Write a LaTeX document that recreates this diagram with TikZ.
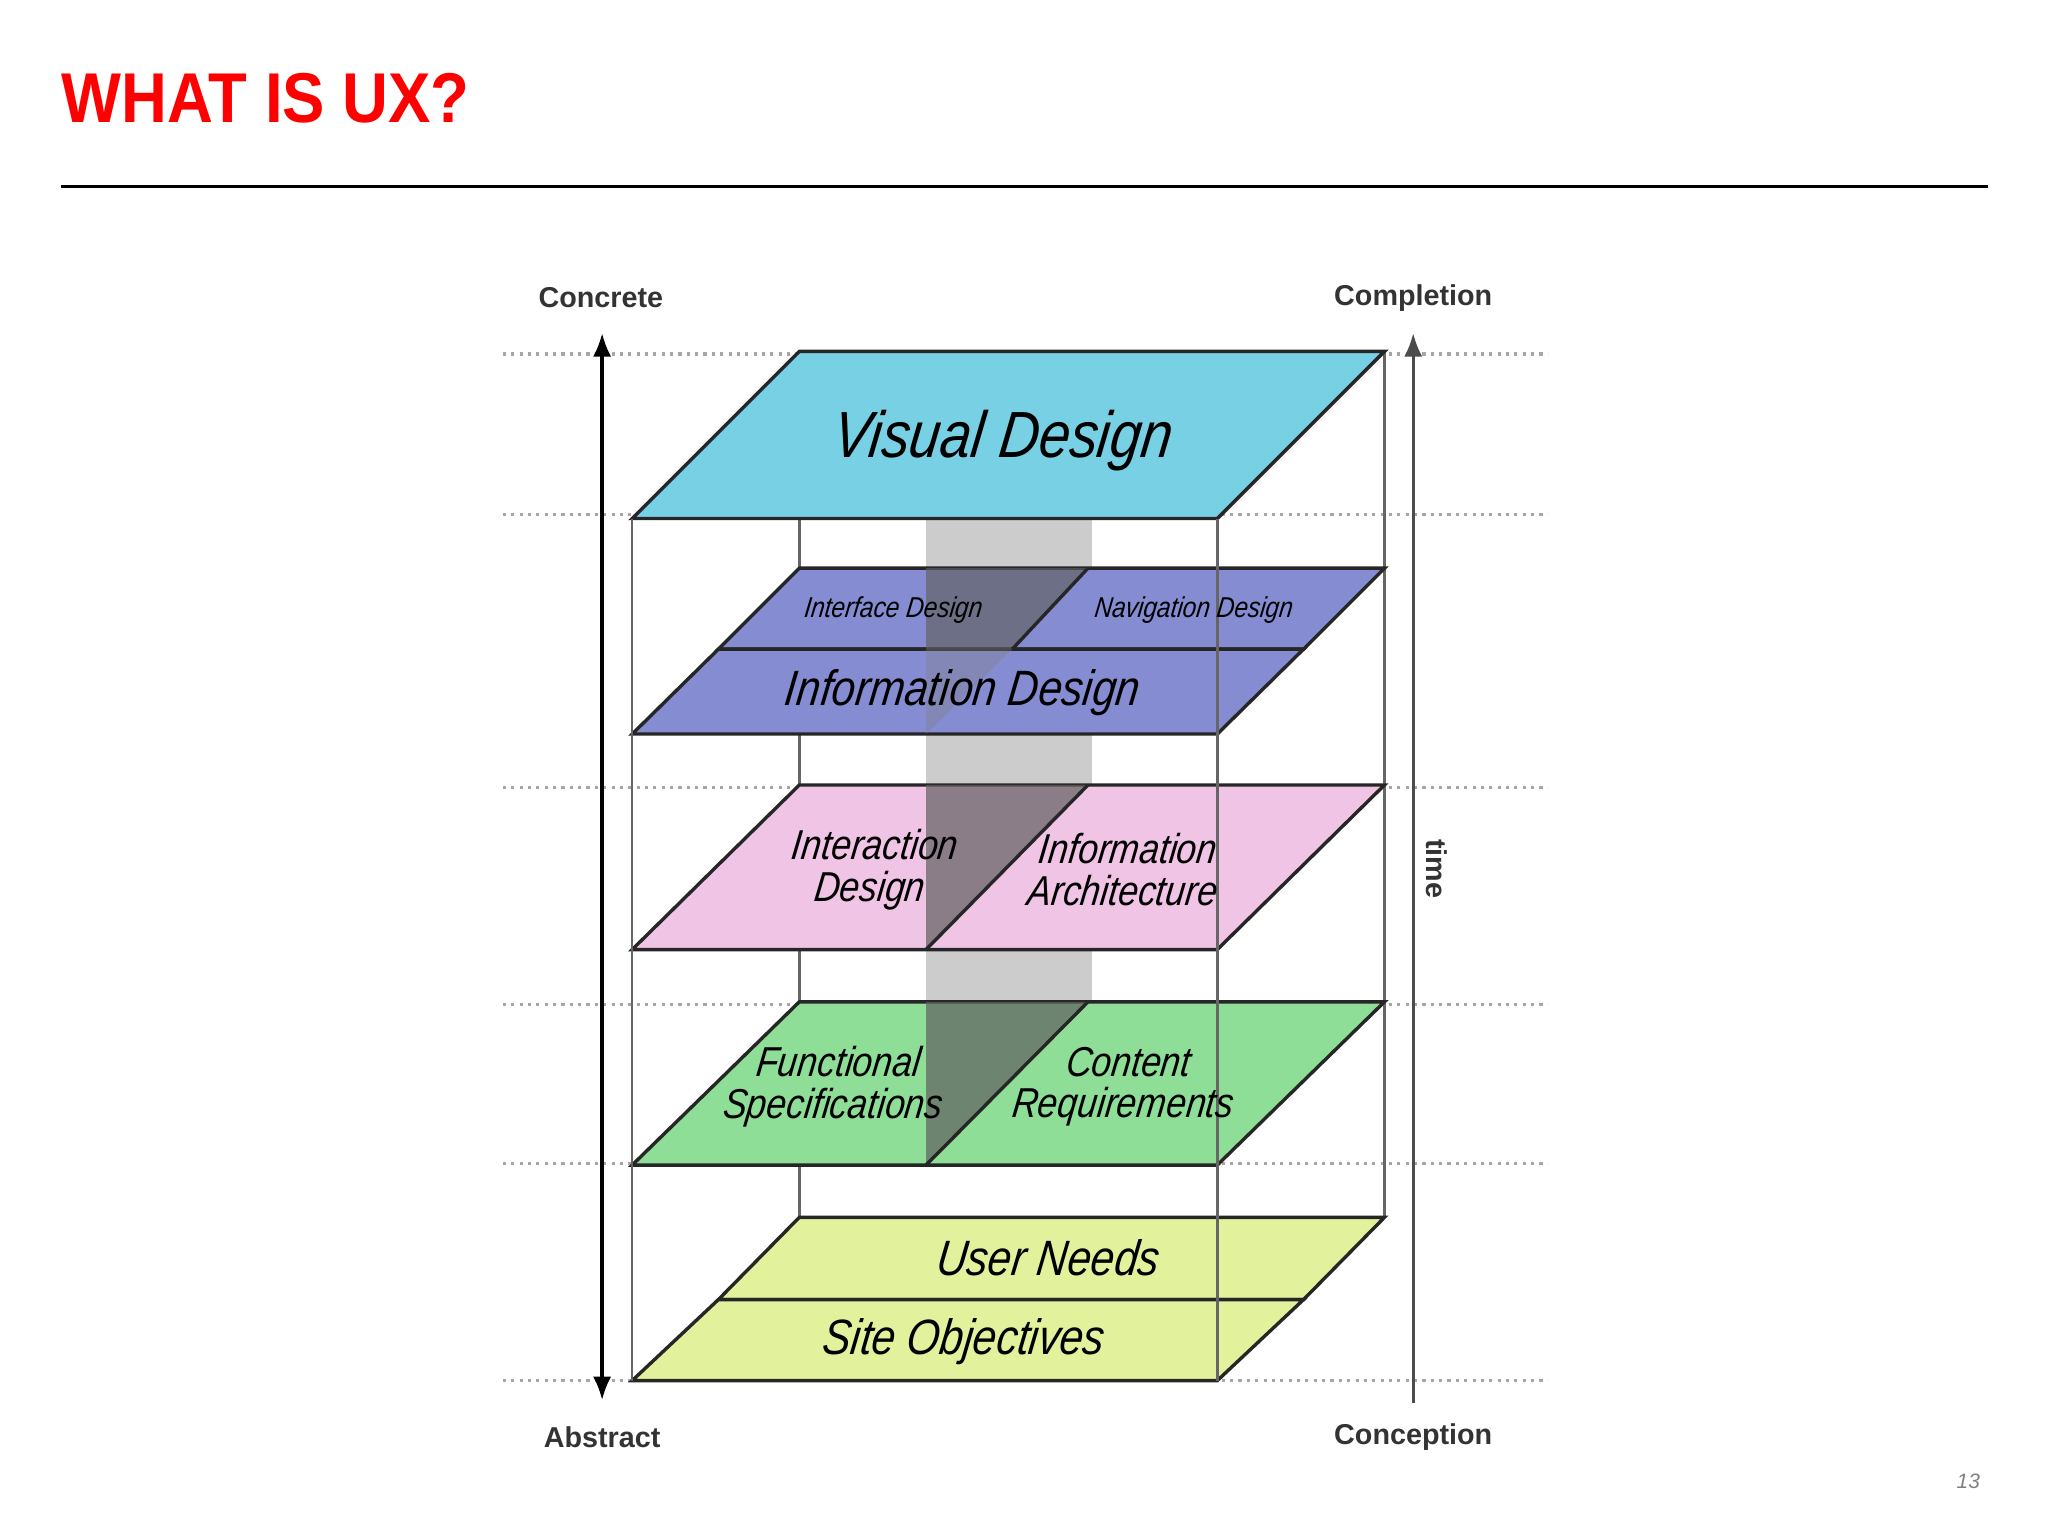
\documentclass[tikz,border=0pt]{standalone}
\usepackage{fontspec}
\setmainfont{Liberation Sans}
\usetikzlibrary{arrows.meta}
\begin{document}
\begin{tikzpicture}[x=0.5pt,y=-0.5pt,
  layer/.style={draw=black!85,line width=1.3pt},
  lbl/.style={font=\itshape\fontsize{#1}{#1}\selectfont,align=center,inner sep=0pt,xscale=0.85,xslant=0.15},
  dotl/.style={dotted,line width=1.2pt,gray!70},
  axis/.style={font=\bfseries\fontsize{11}{12}\selectfont,text=black!80}]
\useasboundingbox (0,0) rectangle (1568,1176);
\definecolor{vis}{RGB}{120,208,228}
\definecolor{blu}{RGB}{134,140,210}
\definecolor{pnk}{RGB}{240,196,228}
\definecolor{grn}{RGB}{142,222,152}
\definecolor{yel}{RGB}{226,242,156}
\node[anchor=west,text=red,font=\bfseries\fontsize{27}{30}\selectfont,inner sep=0pt,xscale=0.9] (title) at (47,75) {WHAT IS UX?};
\coordinate (r1) at (47,143); \coordinate (r2) at (1522,143);
\draw[line width=1.3pt] (r1) -- (r2);
\node[text=gray,font=\itshape\fontsize{8}{9}\selectfont] (pg) at (1507,1134) {13};
\foreach \y in {271,394,603,769,891,1057}{\draw[dotl] (385,\y) -- (1185,\y);}
\draw[black!60,line width=1pt] (612,397) -- (612,932);
\draw[black!60,line width=1pt] (1060,269) -- (1060,932);
\fill[black!20] (709,397) rectangle (836,892);
\filldraw[layer,fill=vis] (612,269) -- (1060,269) -- (932,397) -- (484,397) -- cycle;
\filldraw[layer,fill=blu] (612,435) -- (1060,435) -- (998,497) -- (550,497) -- cycle;
\filldraw[layer,fill=blu] (550,497) -- (998,497) -- (932,562) -- (484,562) -- cycle;
\filldraw[layer,fill=pnk] (612,601) -- (1060,601) -- (932,727) -- (484,727) -- cycle;
\filldraw[layer,fill=grn] (612,767) -- (1060,767) -- (932,892) -- (484,892) -- cycle;
\filldraw[layer,fill=yel] (612,932) -- (1060,932) -- (998,995) -- (550,995) -- cycle;
\filldraw[layer,fill=yel] (550,995) -- (998,995) -- (932,1057) -- (484,1057) -- cycle;
\fill[gray!75!black,opacity=0.65] (709,435) -- (833,435) -- (775,497) -- (709,497) -- cycle;
\fill[gray,opacity=0.35] (709,497) -- (775,497) -- (709,562) -- cycle;
\fill[gray!75!black,opacity=0.7] (709,601) -- (833,601) -- (709,727) -- cycle;
\fill[gray!75!black,opacity=0.7] (709,767) -- (833,767) -- (709,892) -- cycle;
\draw[layer] (833,435) -- (775,497);
\draw[layer] (833,601) -- (709,727);
\draw[layer] (833,767) -- (709,892);
\draw[black!60,line width=1pt] (484,397) -- (484,1057);
\draw[black!60,line width=1pt] (932,397) -- (932,1057);
\node[lbl=25] (vd) at (768,337) {Visual Design};
\node[lbl=11] (id) at (684,467) {Interface Design};
\node[lbl=11] (nd) at (914,467) {Navigation Design};
\node[lbl=19] (inf) at (737,530) {Information Design};
\node[lbl=16] (ixd) at (668,666) {Interaction\\Design};
\node[lbl=16] (ia) at (862,666) {Information\\Architecture};
\node[lbl=16] (fs) at (640,832) {Functional\\Specifications};
\node[lbl=16] (cr) at (862,832) {Content\\Requirements};
\node[lbl=19] (un) at (803,963) {User Needs};
\node[lbl=19] (so) at (738,1027) {Site Objectives};
\coordinate (lt) at (461,255); \coordinate (lb) at (461,1072);
\draw[{Latex[length=9pt,width=7pt]}-{Latex[length=9pt,width=7pt]},line width=1.3pt] (lt) -- (lb);
\coordinate (rt) at (1082,255); \coordinate (rb) at (1082,1074);
\draw[-{Latex[length=9pt,width=7pt]},line width=1.3pt,black!70] (rb) -- (rt);
\node[axis] (cc) at (460,228) {Concrete};
\node[axis] (cp) at (1082,228) {Completion};
\node[axis] (ab) at (461,1100) {Abstract};
\node[axis] (cn) at (1082,1100) {Conception};
\node[axis,rotate=-90] (tm) at (1100,665) {time};
\end{tikzpicture}
\end{document}
